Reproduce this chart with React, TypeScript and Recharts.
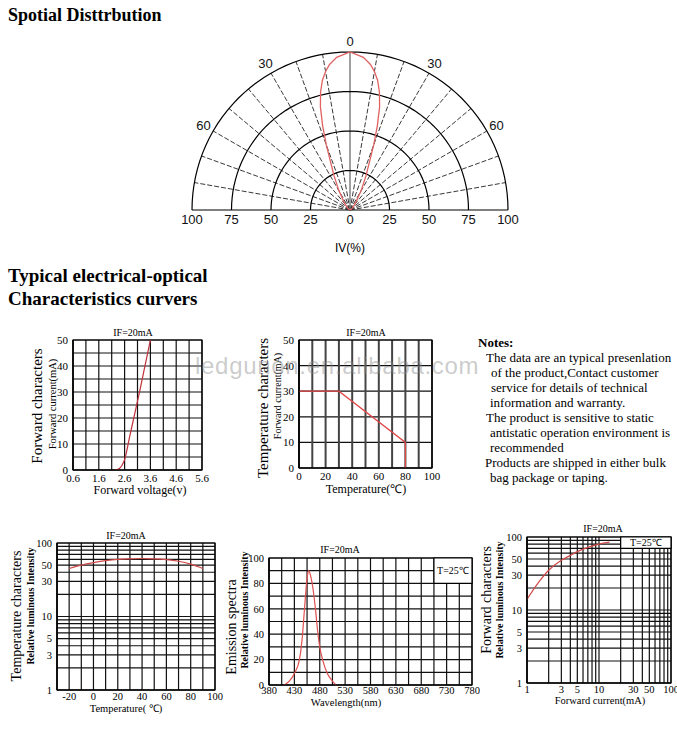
import React from "react"
import {
  ComposedChart,
  ScatterChart,
  Scatter,
  Line,
  XAxis,
  YAxis,
  CartesianGrid,
  ReferenceArea,
  ReferenceDot,
} from "recharts"

const serif = '"Liberation Serif", "Times New Roman", serif'
const sans = '"Liberation Sans", Arial, sans-serif'

// ---- spatial distribution (polar) ----
const lobeAngles = [-90, -60, -50, -40, -30, -25, -22, -20, -18, -16, -14, -12, -10, -8, -5, 0, 5, 8, 10, 12, 14, 16, 18, 20, 22, 25, 30, 40, 50, 60, 90]
const lobeValues = [0, 1, 2, 5, 14, 24, 33, 44, 56, 68, 77, 84, 89, 93, 97, 100, 97, 93, 89, 84, 77, 68, 56, 44, 33, 24, 14, 5, 2, 1, 0]
const ringRadii = [25, 50, 75, 100]
const spokeAngles = [-80, -70, -60, -50, -40, -30, -20, -10, 10, 20, 30, 40, 50, 60, 70, 80]
const polarTicks = [-100, -75, -50, -25, 0, 25, 50, 75, 100]
const angleLabels = [-60, -30, 0, 30, 60]

// ---- forward characters (I-V) ----
const faGridX = [0.6, 1.1, 1.6, 2.1, 2.6, 3.1, 3.6, 4.1, 4.6, 5.1, 5.6]
const faLabelX = [0.6, 1.6, 2.6, 3.6, 4.6, 5.6]
const faGridY = [0, 5, 10, 15, 20, 25, 30, 35, 40, 45, 50]
const faLabelY = [0, 10, 20, 30, 40, 50]
const faVolt = [2.25, 2.4, 2.5, 2.6, 2.8, 3.0, 3.2, 3.4, 3.6]
const faCurr = [0, 0.6, 1.8, 4, 13, 22, 31, 40.5, 50]

// ---- temperature characters (derating) ----
const tcGridX = [0, 10, 20, 30, 40, 50, 60, 70, 80, 90, 100]
const tcLabelX = [0, 20, 40, 60, 80, 100]
const tcGridY = [0, 10, 20, 30, 40, 50]
const tcTemp = [0, 30, 80, 80]
const tcCurr = [30, 30, 10, 0]

// ---- shared log grid ----
const logGrid = [1, 2, 3, 4, 5, 6, 7, 8, 9, 10, 20, 30, 40, 50, 60, 70, 80, 90, 100]
const logLabels = [1, 3, 5, 10, 30, 50, 100]

// ---- temperature vs relative intensity ----
const tlGridX = [-30, -20, -10, 0, 10, 20, 30, 40, 50, 60, 70, 80, 90, 100]
const tlLabelX = [-20, 0, 20, 40, 60, 80, 100]
const tlTemp = [-20, -10, 0, 10, 20, 30, 40, 50, 60, 70, 80, 90]
const tlRel = [45, 50, 54, 57.5, 60, 61, 61.5, 61, 59.5, 56.5, 51.5, 45]

// ---- emission spectra ----
const esGridX = [380, 405, 430, 455, 480, 505, 530, 555, 580, 605, 630, 655, 680, 705, 730, 755, 780]
const esLabelX = [380, 430, 480, 530, 580, 630, 680, 730, 780]
const esGridY = [0, 10, 20, 30, 40, 50, 60, 70, 80, 90, 100]
const esLabelY = [0, 20, 40, 60, 80, 100]
const esWave = [410, 420, 430, 440, 445, 450, 455, 458, 462, 467, 472, 476, 480, 487, 495, 505, 512]
const esRel = [0, 3, 9, 20, 35, 60, 84, 90, 86, 75, 58, 42, 30, 18, 9, 3, 0]

// ---- forward current vs relative intensity ----
const fcCurr = [1, 1.5, 2, 3, 4, 5, 7, 10, 14]
const fcRel = [14, 25, 35, 48, 56, 63, 72, 80, 85]

const notes: [string, number, boolean][] = [
  ["Notes:", 478, true],
  ["The data are an typical presenlation", 486, false],
  ["of the product,Contact customer", 491, false],
  ["service for details of technical", 491, false],
  ["information and warranty.", 490, false],
  ["The product is sensitive to static", 486, false],
  ["antistatic operation environment is", 490, false],
  ["recommended", 490, false],
  ["Products are shipped in either bulk", 485, false],
  ["bag package or taping.", 490, false],
]

const toRad = (d: number) => (d * Math.PI) / 180
const polarPoint = (angle: number, r: number) => ({ x: r * Math.sin(toRad(angle)), y: r * Math.cos(toRad(angle)) })
const pairs = (xs: number[], ys: number[]) => xs.map((x, i) => ({ x, y: ys[i] }))
const noShape = () => <g />

function Txt({ x, y, size, children, bold, rotate, align = "center", font = serif, color = "#000", spacing = 0 }: any) {
  const tx = align === "center" ? "-50%" : "0"
  return (
    <div
      style={{
        position: "absolute",
        left: x,
        top: y,
        fontFamily: font,
        fontSize: size,
        fontWeight: bold ? 700 : 400,
        color,
        letterSpacing: spacing,
        whiteSpace: "nowrap",
        lineHeight: 1,
        transform: `translate(${tx}, -50%)${rotate ? " rotate(-90deg)" : ""}`,
      }}
    >
      {children}
    </div>
  )
}

function PolarPlot() {
  const cx = 350
  const base = 210
  const R = 158
  const padX = 30
  const padT = 30
  const padB = 22
  const arcs = ringRadii.map((r) => {
    const pts = []
    for (let a = -90; a <= 90; a += 3) pts.push(polarPoint(a, r))
    return pts
  })
  const lobe = lobeAngles.map((a, i) => polarPoint(a, lobeValues[i]))
  return (
    <div style={{ position: "absolute", left: cx - R - padX, top: base - R - padT }}>
      <ScatterChart width={2 * R + 2 * padX} height={R + padT + padB} margin={{ top: padT, right: padX, left: padX, bottom: 0 }}>
        <XAxis
          type="number"
          dataKey="x"
          domain={[-100, 100]}
          ticks={polarTicks}
          interval={0}
          tickFormatter={(v: number) => String(Math.abs(v))}
          axisLine={{ stroke: "#000", strokeWidth: 1.2 }}
          tickLine={false}
          tickSize={3}
          height={padB}
          tick={{ fontSize: 13, fill: "#111", fontFamily: sans }}
        />
        <YAxis type="number" dataKey="y" domain={[0, 100]} hide />
        {spokeAngles.map((a) => (
          <Scatter
            key={"s" + a}
            data={[{ x: 0, y: 0 }, polarPoint(a, 100)]}
            line={{ stroke: "#222", strokeWidth: 0.9, strokeDasharray: "5 2" }}
            lineType="joint"
            shape={noShape}
            isAnimationActive={false}
          />
        ))}
        <Scatter
          data={[{ x: 0, y: 0 }, { x: 0, y: 100 }]}
          line={{ stroke: "#808080", strokeWidth: 1.5 }}
          lineType="joint"
          shape={noShape}
          isAnimationActive={false}
        />
        {arcs.map((pts, i) => (
          <Scatter
            key={"r" + i}
            data={pts}
            line={{ stroke: "#000", strokeWidth: 1.2 }}
            lineType="joint"
            shape={noShape}
            isAnimationActive={false}
          />
        ))}
        <Scatter
          data={lobe}
          line={{ stroke: "#e06262", strokeWidth: 1.3 }}
          lineType="joint"
          shape={noShape}
          isAnimationActive={false}
        />
        {angleLabels.map((a) => {
          const p = polarPoint(a, 107)
          return (
            <ReferenceDot
              key={"l" + a}
              x={p.x}
              y={p.y}
              r={0}
              fill="none"
              stroke="none"
              ifOverflow="visible"
              label={{ value: String(Math.abs(a)), position: "center", fontSize: 13, fill: "#111", fontFamily: sans }}
            />
          )
        })}
      </ScatterChart>
    </div>
  )
}

function Panel({
  px, py, pw, ph, xDomain, yDomain, xScale = "linear", yScale = "linear",
  xGrid, yGrid, xLabels, yLabels, data, color, lineType = "monotone",
  box, vStroke = "#111", vWidth = 1.2, tickFont = 11, xGap = 2,
}: any) {
  const padL = 40
  const padT = 8
  const padR = 14
  const padB = 22
  const fmt = (labels: number[]) => (v: number) => (labels.includes(v) ? String(v) : "")
  const tick = { fontSize: tickFont, fill: "#000", fontFamily: serif }
  return (
    <div style={{ position: "absolute", left: px - padL, top: py - padT }}>
      <ComposedChart width={pw + padL + padR} height={ph + padT + padB} data={data} margin={{ top: padT, right: padR, left: 0, bottom: 0 }}>
        <CartesianGrid vertical={false} stroke="#111" strokeWidth={1.2} />
        <CartesianGrid horizontal={false} stroke={vStroke} strokeWidth={vWidth} />
        <XAxis
          type="number"
          dataKey="x"
          scale={xScale}
          domain={xDomain}
          ticks={xGrid}
          interval={0}
          allowDataOverflow
          tickFormatter={fmt(xLabels)}
          tickLine={false}
          tickSize={xGap}
          height={padB}
          axisLine={{ stroke: "#000", strokeWidth: 1.2 }}
          tick={tick}
        />
        <YAxis
          type="number"
          scale={yScale}
          domain={yDomain}
          ticks={yGrid}
          interval={0}
          allowDataOverflow
          tickFormatter={fmt(yLabels)}
          tickLine={false}
          tickSize={3}
          width={padL}
          axisLine={{ stroke: "#000", strokeWidth: 1.2 }}
          tick={tick}
        />
        <ReferenceArea x1={xDomain[0]} x2={xDomain[1]} y1={yDomain[0]} y2={yDomain[1]} fill="none" stroke="#000" strokeWidth={1.2} />
        {box && (
          <ReferenceArea
            x1={box.x1}
            x2={box.x2}
            y1={box.y1}
            y2={box.y2}
            fill="#fff"
            fillOpacity={1}
            stroke="#000"
            strokeWidth={1.2}
            label={{ value: "T=25\u2103", position: "center", fontSize: 10, fill: "#000", fontFamily: serif }}
          />
        )}
        <Line dataKey="y" type={lineType} stroke={color} strokeWidth={1.2} dot={false} isAnimationActive={false} />
      </ComposedChart>
    </div>
  )
}

export default function App() {
  return (
    <div style={{ position: "absolute", left: 0, top: 0, width: 677, height: 729, background: "#fff", overflow: "hidden", fontFamily: serif }}>
      <Txt x={8} y={15} size={18} bold align="left">Spotial Disttrbution</Txt>
      <PolarPlot />
      <Txt x={350} y={248} size={12} font={sans}>IV(%)</Txt>

      <Txt x={8} y={275} size={19} bold align="left">Typical electrical-optical</Txt>
      <Txt x={8} y={298} size={19} bold align="left">Characteristics curvers</Txt>

      {/* forward characters */}
      <Txt x={133} y={333} size={10}>IF=20mA</Txt>
      <Txt x={37} y={406} size={15} rotate>Forward characters</Txt>
      <Txt x={53} y={404} size={10.5} rotate>Forward current(mA)</Txt>
      <Txt x={140} y={490} size={12}>Forward voltage(v)</Txt>
      <Panel
        px={73} py={340} pw={129} ph={130}
        xDomain={[0.6, 5.6]} yDomain={[0, 50]}
        xGrid={faGridX} yGrid={faGridY} xLabels={faLabelX} yLabels={faLabelY}
        data={pairs(faVolt, faCurr)} color="#c0303a"
      />

      {/* temperature characters */}
      <Txt x={366} y={333} size={10}>IF=20mA</Txt>
      <Txt x={263} y={408} size={15} rotate>Temperature characters</Txt>
      <Txt x={278} y={396} size={10} rotate>Forward current(mA)</Txt>
      <Txt x={366} y={489} size={12}>Temperature(&#8451;)</Txt>
      <Panel
        px={299} py={340} pw={133} ph={128}
        xDomain={[0, 100]} yDomain={[0, 50]}
        xGrid={tcGridX} yGrid={tcGridY} xLabels={tcLabelX} yLabels={tcGridY}
        data={pairs(tcTemp, tcCurr)} color="#e04848" lineType="linear"
        vStroke="#444" vWidth={2}
      />

      {notes.map(([t, x, b], i) => (
        <Txt key={i} x={x} y={341.5 + i * 15.05} size={13} bold={b} align="left">{t}</Txt>
      ))}

      {/* temperature vs relative intensity */}
      <Txt x={126} y={536} size={10}>IF=20mA</Txt>
      <Txt x={17} y={616} size={14} rotate>Temperature characters</Txt>
      <Txt x={31} y={606} size={10} bold rotate>Relative luminous Intensity</Txt>
      <Txt x={126} y={709} size={10.5}>Temperature( &#8451;)</Txt>
      <Panel
        px={57} py={543} pw={158} ph={147}
        xDomain={[-30, 100]} yDomain={[1, 100]} yScale="log"
        xGrid={tlGridX} yGrid={logGrid} xLabels={tlLabelX} yLabels={logLabels}
        data={pairs(tlTemp, tlRel)} color="#d04848" tickFont={10.5} xGap={1}
      />

      {/* emission spectra */}
      <Txt x={340} y={550} size={10}>IF=20mA</Txt>
      <Txt x={232} y={627} size={14} rotate>Emission spectra</Txt>
      <Txt x={245} y={610} size={10} bold rotate>Relative luminous Intensity</Txt>
      <Txt x={346} y={703} size={10.5}>Wavelength(nm)</Txt>
      <Panel
        px={269} py={558} pw={203} ph={127}
        xDomain={[380, 780]} yDomain={[0, 100]}
        xGrid={esGridX} yGrid={esGridY} xLabels={esLabelX} yLabels={esLabelY}
        data={pairs(esWave, esRel)} color="#e05050" tickFont={10.5} xGap={0}
        box={{ x1: 705, x2: 780, y1: 80, y2: 100 }}
      />

      {/* forward current vs relative intensity */}
      <Txt x={603} y={529} size={10}>IF=20mA</Txt>
      <Txt x={487} y={600} size={14} rotate>Forward characters</Txt>
      <Txt x={500} y={600} size={10} bold rotate>Relative luminous Intensity</Txt>
      <Txt x={600} y={701} size={10.5}>Forward current(mA)</Txt>
      <Panel
        px={527} py={537} pw={144} ph={146}
        xDomain={[1, 100]} yDomain={[1, 100]} xScale="log" yScale="log"
        xGrid={logGrid} yGrid={logGrid} xLabels={logLabels} yLabels={logLabels}
        data={pairs(fcCurr, fcRel)} color="#d04848" tickFont={10.5} xGap={1}
        box={{ x1: 20, x2: 100, y1: 70, y2: 100 }}
      />

      <div
        style={{
          position: "absolute",
          left: 195,
          top: 366,
          transform: "translateY(-50%)",
          fontFamily: sans,
          fontSize: 24,
          letterSpacing: 0.7,
          color: "rgba(140,140,140,0.45)",
          whiteSpace: "nowrap",
          pointerEvents: "none",
          lineHeight: 1,
        }}
      >
        ledgunon.en.alibaba.com
      </div>
    </div>
  )
}
